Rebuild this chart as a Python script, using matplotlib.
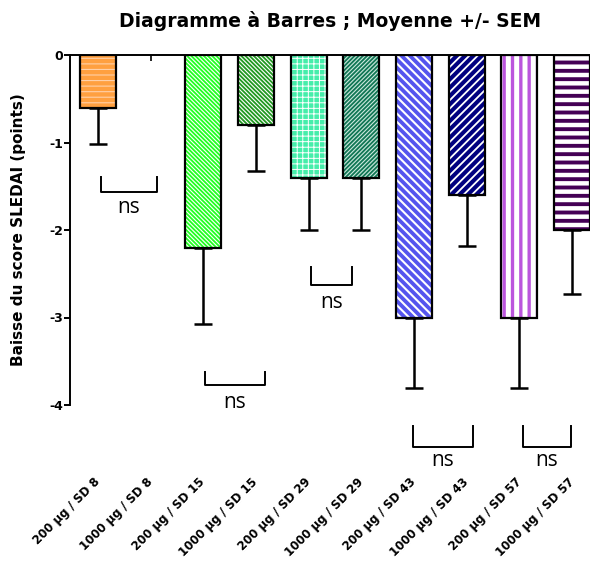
import numpy as np
import matplotlib.pyplot as plt

labels = ['200 µg / SD 8', '1000 µg / SD 8', '200 µg / SD 15', '1000 µg / SD 15',
          '200 µg / SD 29', '1000 µg / SD 29', '200 µg / SD 43', '1000 µg / SD 43',
          '200 µg / SD 57', '1000 µg / SD 57']
means = [-0.6, 0.0, -2.2, -0.8, -1.4, -1.4, -3.0, -1.6, -3.0, -2.0]
sem = [0.42, 0.0, 0.87, 0.53, 0.6, 0.6, 0.8, 0.58, 0.8, 0.73]

face = ['#FFA040', '#FFFFFF', '#22FF22', '#229922', '#44EEAA',
        '#117755', '#5555EE', '#000080', '#FFFFFF', '#FFFFFF']
hatch_col = ['#FFD0A8', '#FFFFFF', '#FFFFFF', '#FFFFFF', '#FFFFFF',
             '#CCE8DD', '#FFFFFF', '#FFFFFF', '#BB55DD', '#440055']
hatches = ['---', '', '\\' * 8, '\\' * 8, '+++', '/' * 8, '\\' * 4, '/' * 4, '||', '--']
hatch_lw = [0.8, 1.0, 0.8, 0.8, 0.7, 0.8, 1.5, 1.3, 2.4, 2.8]

# ns brackets: (x start, x end, top, bottom, text y)
brackets = [(0.06, 1.12, -1.39, -1.57, -1.74),
            (2.03, 3.17, -3.62, -3.77, -3.97),
            (4.04, 4.82, -2.42, -2.63, -2.83),
            (5.98, 7.11, -4.24, -4.48, -4.63),
            (8.06, 8.98, -4.24, -4.48, -4.63)]

fig = plt.figure(figsize=(5.9, 5.64), dpi=100)
ax = fig.add_axes([70 / 590, 159 / 564, 520 / 590, 350 / 564])

x = np.arange(len(means))
w = 0.68
for i in x:
    if means[i] == 0:
        continue
    with plt.rc_context({'hatch.linewidth': hatch_lw[i]}):
        ax.bar(x[i], means[i], w, color=face[i], edgecolor=hatch_col[i],
               hatch=hatches[i], linewidth=0, zorder=2)
    ax.bar(x[i], means[i], w, fill=False, edgecolor='black', linewidth=1.6, zorder=3)

m = np.array(sem) > 0
ax.errorbar(x[m], np.array(means)[m], yerr=[np.array(sem)[m], np.zeros(m.sum())],
            fmt='none', ecolor='black', elinewidth=1.8, capsize=6.5, capthick=1.8,
            zorder=4)

for x0, x1, top, bot, ty in brackets:
    ax.plot([x0, x0, x1, x1], [top, bot, bot, top], color='black', lw=1.4,
            clip_on=False, zorder=5)
    ax.text((x0 + x1) / 2, ty, 'ns', ha='center', va='center', fontsize=15,
            family='Open Sans', clip_on=False)

ax.set_xlim(-0.53, 9.34)
ax.set_ylim(-4, 0)
ax.set_yticks([0, -1, -2, -3, -4])
ax.set_yticklabels(['0', '-1', '-2', '-3', '-4'], fontweight='bold', fontsize=9,
                   family='DejaVu Sans')
ax.tick_params(axis='y', direction='out', length=4, width=1.4, pad=1)

ax.set_xticks(x)
ax.set_xticklabels(labels, rotation=45, ha='right', va='center', rotation_mode='anchor',
                   fontweight='bold', fontsize=8.5, family='DejaVu Sans')
ax.tick_params(axis='x', bottom=False, top=True, direction='in', length=4, width=1.2,
               labelbottom=True, pad=54)

ax.spines['bottom'].set_visible(False)
ax.spines['right'].set_visible(False)
ax.spines['left'].set_linewidth(1.4)
ax.spines['top'].set_linewidth(1.4)

ax.set_ylabel('Baisse du score SLEDAI (points)', fontweight='bold', fontsize=11,
              family='DejaVu Sans', labelpad=17)
ax.set_title('Diagramme à Barres ; Moyenne +/- SEM', fontweight='bold', fontsize=13.5,
             family='DejaVu Sans', pad=20)

fig.savefig('out.png', dpi=100)
